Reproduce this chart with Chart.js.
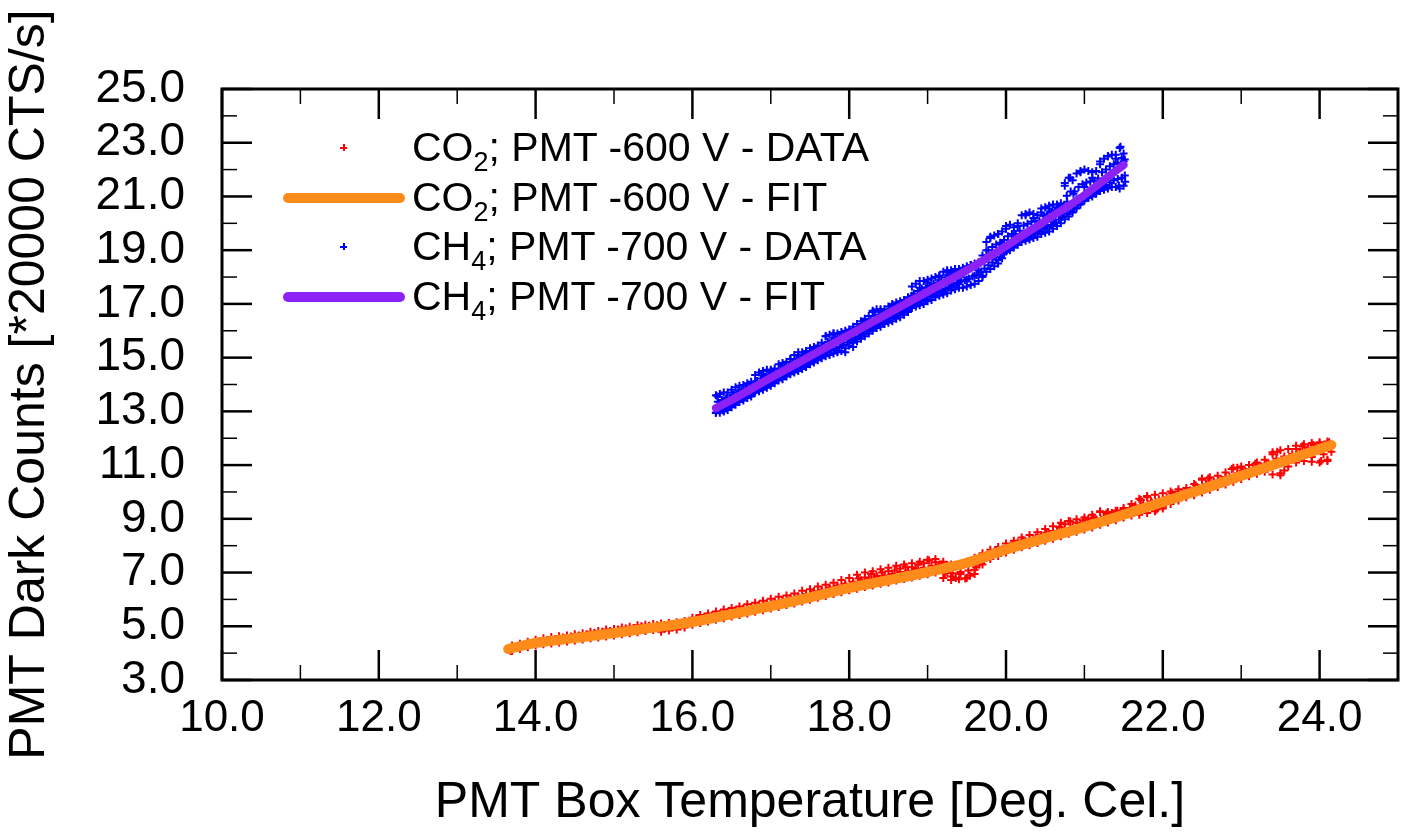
<!DOCTYPE html>
<html>
<head>
<meta charset="utf-8">
<script src="https://cdn.jsdelivr.net/npm/chart.js@4.4.1/dist/chart.umd.min.js"></script>
<style>
  html, body { margin: 0; padding: 0; background: #fff; }
  #wrap { position: relative; width: 1409px; height: 833px; }
  #legend { position: absolute; left: 280px; top: 123px; font-family: 'Liberation Sans', Arial, sans-serif; font-size: 41px; color: #000; }
  .row { height: 49.5px; display: flex; align-items: center; white-space: nowrap; }
  .mk { width: 132px; height: 49.5px; position: relative; flex: none; }
  .bar { position: absolute; left: 3px; width: 122px; height: 10px; top: 20px; border-radius: 5px; }
  .cross { position: absolute; left: 60px; top: 21px; width: 7px; height: 7px; }
  .cross::before, .cross::after { content: ''; position: absolute; background: currentColor; }
  .cross::before { left: 0; top: 3px; width: 7px; height: 1.5px; }
  .cross::after { left: 3px; top: 0; width: 1.5px; height: 7px; }
  .sub { font-size: 27px; vertical-align: -10px; line-height: 0; }
</style>
</head>
<body>
<div id="wrap">
  <canvas id="chart" width="1409" height="833"></canvas>
  <div id="legend"></div>
</div>
<script>
// ============================================================
// DATOS — temperatura de la caja PMT (°C) vs cuentas oscuras
// ============================================================
const co2Temp = [
  13.68, 13.75, 13.85, 13.95, 14.05, 14.15, 14.25, 14.35, 14.45, 14.55,
  14.65, 14.75, 14.85, 14.95, 15.05, 15.15, 15.25, 15.35, 15.45, 15.55,
  15.65, 15.75, 15.85, 15.95, 16.05, 16.15, 16.25, 16.35, 16.45, 16.55,
  16.65, 16.75, 16.85, 16.95, 17.05, 17.15, 17.25, 17.35, 17.45, 17.55,
  17.65, 17.75, 17.85, 17.95, 18.05, 18.12, 18.20, 18.28, 18.35, 18.42,
  18.50, 18.58, 18.65, 18.72, 18.80, 18.88, 18.95, 19.02, 19.10, 19.18,
  19.25, 19.30, 19.36, 19.42, 19.48, 19.54, 19.60, 19.66, 19.72, 19.78,
  19.85, 19.92, 20.00, 20.08, 20.15, 20.22, 20.30, 20.38, 20.45, 20.52,
  20.60, 20.68, 20.75, 20.82, 20.90, 20.98, 21.05, 21.12, 21.20, 21.28,
  21.35, 21.42, 21.50, 21.58, 21.65, 21.72, 21.80, 21.86, 21.92, 22.00,
  22.05, 22.12, 22.20, 22.28, 22.35, 22.42, 22.50, 22.58, 22.65, 22.72,
  22.80, 22.88, 22.95, 23.02, 23.10, 23.18, 23.25, 23.32, 23.40, 23.46,
  23.50, 23.55, 23.62, 23.70, 23.78, 23.85, 23.90, 23.92, 24.00, 24.02,
  24.05, 24.10, 24.12, 24.15,
  19.22, 19.32, 19.42, 19.52, 19.62
];
const co2Counts = [
  4.08, 4.22, 4.30, 4.36, 4.42, 4.47, 4.52, 4.58, 4.62, 4.66,
  4.70, 4.76, 4.80, 4.82, 4.88, 4.92, 4.94, 5.00, 5.02, 5.04,
  4.92, 4.96, 5.00, 5.10, 5.30, 5.35, 5.40, 5.46, 5.52, 5.60,
  5.66, 5.72, 5.80, 5.86, 5.92, 5.98, 6.05, 6.12, 6.20, 6.30,
  6.36, 6.44, 6.52, 6.58, 6.66, 6.78, 6.82, 6.95, 6.88, 7.00,
  7.05, 7.08, 7.15, 7.22, 7.20, 7.30, 7.35, 7.45, 7.38, 7.30,
  7.00, 6.85, 6.80, 6.95, 6.78, 6.88, 7.10, 7.30, 7.45, 7.60,
  7.72, 7.80, 7.98, 8.05, 8.12, 8.20, 8.25, 8.30, 8.40, 8.48,
  8.55, 8.70, 8.80, 8.90, 8.85, 8.95, 9.00, 9.05, 9.25, 9.20,
  9.22, 9.30, 9.35, 9.40, 9.50, 9.70, 9.80, 9.60, 9.35, 9.45,
  9.70, 9.95, 10.02, 9.95, 10.05, 10.25, 10.45, 10.50, 10.35, 10.40,
  10.55, 10.85, 10.90, 10.80, 10.85, 11.05, 10.95, 11.05, 11.40, 11.50,
  10.70, 10.80, 11.30, 11.60, 11.70, 11.65, 11.30, 11.75, 11.80, 11.15,
  11.40, 11.20, 11.85, 11.50,
  6.98, 6.97, 7.02, 7.08, 7.20
];

// borde superior, interior e inferior de la nube de CO2, leídos cada 0.1 °C
const co2EdgeTemp = [
  13.7, 13.8, 13.9, 14.0, 14.1, 14.2, 14.3, 14.4, 14.5, 14.6,
  14.7, 14.8, 14.9, 15.0, 15.1, 15.2, 15.3, 15.4, 15.5, 15.6,
  15.7, 15.8, 15.9, 16.0, 16.1, 16.2, 16.3, 16.4, 16.5, 16.6,
  16.7, 16.8, 16.9, 17.0, 17.1, 17.2, 17.3, 17.4, 17.5, 17.6,
  17.7, 17.8, 17.9, 18.0, 18.1, 18.2, 18.3, 18.4, 18.5, 18.6,
  18.7, 18.8, 18.9, 19.0, 19.1, 19.2, 19.3, 19.4, 19.5, 19.6,
  19.7, 19.8, 19.9, 20.0, 20.1, 20.2, 20.3, 20.4, 20.5, 20.6,
  20.7, 20.8, 20.9, 21.0, 21.1, 21.2, 21.3, 21.4, 21.5, 21.6,
  21.7, 21.8, 21.9, 22.0, 22.1, 22.2, 22.3, 22.4, 22.5, 22.6,
  22.7, 22.8, 22.9, 23.0, 23.1, 23.2, 23.3, 23.4, 23.5, 23.6,
  23.7, 23.8, 23.9, 24.0, 24.1
];
const co2EdgeHigh = [
  4.28, 4.35, 4.42, 4.50, 4.55, 4.60, 4.63, 4.66, 4.70, 4.74,
  4.80, 4.82, 4.88, 4.90, 4.95, 4.98, 5.04, 5.06, 5.08, 5.10,
  5.12, 5.15, 5.20, 5.32, 5.42, 5.48, 5.55, 5.62, 5.68, 5.74,
  5.82, 5.88, 5.95, 6.02, 6.10, 6.15, 6.22, 6.32, 6.38, 6.48,
  6.55, 6.62, 6.72, 6.80, 6.92, 7.00, 7.05, 7.12, 7.18, 7.25,
  7.30, 7.35, 7.40, 7.48, 7.50, 7.40, 7.30, 7.32, 7.40, 7.55,
  7.72, 7.85, 7.95, 8.08, 8.18, 8.30, 8.40, 8.50, 8.62, 8.72,
  8.85, 8.92, 8.98, 9.05, 9.15, 9.28, 9.25, 9.30, 9.40, 9.55,
  9.75, 9.85, 9.90, 9.95, 10.02, 10.10, 10.15, 10.30, 10.50, 10.55,
  10.60, 10.72, 10.90, 10.95, 11.00, 11.10, 11.20, 11.48, 11.55, 11.60,
  11.72, 11.78, 11.82, 11.85, 11.88
];
const co2MidTemp = [
  13.75, 13.85, 13.95, 14.05, 14.15, 14.25, 14.35, 14.45, 14.55, 14.65,
  14.75, 14.85, 14.95, 15.05, 15.15, 15.25, 15.35, 15.45, 15.55, 15.65,
  15.75, 15.85, 15.95, 16.05, 16.15, 16.25, 16.35, 16.45, 16.55, 16.65,
  16.75, 16.85, 16.95, 17.05, 17.15, 17.25, 17.35, 17.45, 17.55, 17.65,
  17.75, 17.85, 17.95, 18.05, 18.15, 18.25, 18.35, 18.45, 18.55, 18.65,
  18.75, 18.85, 18.95, 19.05, 19.15, 19.25, 19.35, 19.45, 19.55, 19.65,
  19.75, 19.85, 19.95, 20.05, 20.15, 20.25, 20.35, 20.45, 20.55, 20.65,
  20.75, 20.85, 20.95, 21.05, 21.15, 21.25, 21.35, 21.45, 21.55, 21.65,
  21.75, 21.85, 21.95, 22.05, 22.15, 22.25, 22.35, 22.45, 22.55, 22.65,
  22.75, 22.85, 22.95, 23.05, 23.15, 23.25, 23.35, 23.45, 23.55, 23.65,
  23.75, 23.85, 23.95, 24.05, 24.13
];
const co2MidHigh = [
  4.23, 4.30, 4.37, 4.44, 4.49, 4.53, 4.56, 4.59, 4.63, 4.67,
  4.72, 4.75, 4.80, 4.83, 4.87, 4.91, 4.96, 4.99, 5.02, 5.05,
  5.08, 5.12, 5.16, 5.24, 5.32, 5.38, 5.44, 5.51, 5.57, 5.63,
  5.70, 5.76, 5.82, 5.89, 5.96, 6.02, 6.08, 6.17, 6.23, 6.32,
  6.39, 6.46, 6.54, 6.62, 6.71, 6.78, 6.83, 6.89, 6.95, 7.02,
  7.07, 7.13, 7.18, 7.25, 7.30, 7.28, 7.26, 7.30, 7.38, 7.50,
  7.64, 7.76, 7.86, 7.97, 8.06, 8.16, 8.26, 8.35, 8.45, 8.54,
  8.65, 8.72, 8.80, 8.88, 8.97, 9.08, 9.11, 9.18, 9.28, 9.40,
  9.55, 9.65, 9.72, 9.79, 9.87, 9.96, 10.03, 10.15, 10.30, 10.38,
  10.45, 10.56, 10.70, 10.78, 10.85, 10.95, 11.05, 11.24, 11.32, 11.40,
  11.51, 11.59, 11.66, 11.72, 11.79
];
const co2EdgeLow = [
  4.08, 4.15, 4.22, 4.28, 4.33, 4.36, 4.40, 4.43, 4.47, 4.51,
  4.55, 4.58, 4.62, 4.66, 4.70, 4.74, 4.78, 4.82, 4.86, 4.80,
  4.84, 4.88, 4.95, 5.06, 5.12, 5.18, 5.24, 5.30, 5.36, 5.42,
  5.48, 5.54, 5.60, 5.66, 5.72, 5.79, 5.85, 5.92, 5.99, 6.06,
  6.13, 6.20, 6.27, 6.34, 6.40, 6.46, 6.52, 6.58, 6.63, 6.70,
  6.76, 6.82, 6.88, 6.94, 7.00, 6.80, 6.72, 6.75, 6.80, 6.95,
  7.30, 7.50, 7.62, 7.75, 7.85, 7.94, 8.02, 8.10, 8.18, 8.26,
  8.35, 8.44, 8.52, 8.60, 8.68, 8.78, 8.86, 8.95, 9.05, 9.12,
  9.15, 9.22, 9.28, 9.38, 9.55, 9.68, 9.80, 9.88, 9.98, 10.08,
  10.18, 10.28, 10.38, 10.48, 10.58, 10.68, 10.75, 10.65, 10.62, 10.95,
  11.10, 11.15, 11.12, 11.10, 11.15
];

const co2FitTemp   = [13.65, 14.0, 14.5, 15.0, 15.5, 16.0, 16.5, 17.0, 17.5, 18.0, 18.5, 19.0, 19.5, 20.0, 20.5, 21.0, 21.5, 22.0, 22.5, 23.0, 23.5, 24.0, 24.15];
const co2FitCounts = [4.15, 4.38, 4.56, 4.75, 4.95, 5.16, 5.45, 5.75, 6.08, 6.43, 6.72, 7.02, 7.36, 7.86, 8.28, 8.70, 9.15, 9.63, 10.10, 10.60, 11.10, 11.60, 11.75];

const ch4Temp = [
  16.30, 16.32, 16.36, 16.40, 16.44, 16.48, 16.52, 16.56, 16.60, 16.65,
  16.70, 16.75, 16.80, 16.85, 16.90, 16.95, 17.00, 17.05, 17.10, 17.15,
  17.20, 17.25, 17.30, 17.35, 17.40, 17.45, 17.50, 17.55, 17.60, 17.65,
  17.70, 17.75, 17.80, 17.85, 17.90, 17.95, 18.00, 18.05, 18.10, 18.15,
  18.20, 18.25, 18.30, 18.35, 18.40, 18.45, 18.50, 18.55, 18.60, 18.65,
  18.70, 18.75, 18.80, 18.85, 18.90, 18.95, 19.00, 19.05, 19.10, 19.15,
  19.20, 19.25, 19.30, 19.35, 19.40, 19.45, 19.50, 19.55, 19.60, 19.65,
  19.70, 19.75, 19.80, 19.85, 19.90, 19.95, 20.00, 20.05, 20.10, 20.15,
  20.20, 20.25, 20.30, 20.35, 20.40, 20.45, 20.50, 20.55, 20.60, 20.65,
  20.70, 20.75, 20.78, 20.82, 20.86, 20.90, 20.95, 21.00, 21.05, 21.10,
  21.15, 21.20, 21.25, 21.30, 21.35, 21.40, 21.44, 21.46, 21.48, 21.50,
  21.52
];
const ch4Counts = [
  12.95, 13.55, 13.30, 13.00, 13.50, 13.20, 13.60, 13.40, 13.75, 13.50,
  13.85, 13.65, 14.10, 13.80, 14.40, 14.05, 14.50, 14.20, 14.35, 14.70,
  14.45, 14.95, 14.60, 15.10, 14.75, 15.15, 14.90, 15.25, 15.05, 15.40,
  15.80, 15.35, 15.90, 15.25, 15.55, 15.20, 15.70, 15.40, 16.10, 15.80,
  16.40, 16.00, 16.70, 16.20, 16.75, 16.35, 16.55, 16.95, 16.60, 17.00,
  16.70, 16.90, 17.30, 16.95, 17.60, 17.25, 17.80, 17.35, 17.55, 18.05,
  17.45, 18.20, 17.70, 18.30, 17.80, 18.10, 17.90, 18.45, 18.05, 18.25,
  18.00, 19.00, 19.50, 18.80, 19.60, 19.20, 19.80, 19.10, 19.60, 19.90,
  19.40, 20.30, 19.70, 20.20, 19.75, 20.40, 19.95, 20.55, 20.10, 20.40,
  20.30, 21.40, 20.80, 21.70, 21.10, 20.90, 21.90, 21.35, 20.95, 21.70,
  21.30, 22.20, 21.60, 22.50, 21.80, 22.40, 21.40, 22.85, 21.70, 22.30,
  21.55
];

// borde superior e inferior de la nube de CH4, leídos cada 0.05 °C
const ch4EdgeTemp = [
  16.30, 16.35, 16.40, 16.45, 16.50, 16.55, 16.60, 16.65, 16.70, 16.75,
  16.80, 16.85, 16.90, 16.95, 17.00, 17.05, 17.10, 17.15, 17.20, 17.25,
  17.30, 17.35, 17.40, 17.45, 17.50, 17.55, 17.60, 17.65, 17.70, 17.75,
  17.80, 17.85, 17.90, 17.95, 18.00, 18.05, 18.10, 18.15, 18.20, 18.25,
  18.30, 18.35, 18.40, 18.45, 18.50, 18.55, 18.60, 18.65, 18.70, 18.75,
  18.80, 18.85, 18.90, 18.95, 19.00, 19.05, 19.10, 19.15, 19.20, 19.25,
  19.30, 19.35, 19.40, 19.45, 19.50, 19.55, 19.60, 19.65, 19.70, 19.75,
  19.80, 19.85, 19.90, 19.95, 20.00, 20.05, 20.10, 20.15, 20.20, 20.25,
  20.30, 20.35, 20.40, 20.45, 20.50, 20.55, 20.60, 20.65, 20.70, 20.75,
  20.80, 20.85, 20.90, 20.95, 21.00, 21.05, 21.10, 21.15, 21.20, 21.25,
  21.30, 21.35, 21.40, 21.45, 21.50
];
const ch4EdgeHigh = [
  13.60, 13.65, 13.70, 13.70, 13.80, 13.90, 13.95, 13.98, 14.05, 14.10,
  14.35, 14.45, 14.50, 14.55, 14.55, 14.60, 14.75, 14.80, 14.85, 14.95,
  15.10, 15.20, 15.20, 15.25, 15.35, 15.40, 15.45, 15.55, 15.80, 15.85,
  15.90, 15.90, 15.95, 16.00, 16.05, 16.15, 16.25, 16.35, 16.45, 16.55,
  16.75, 16.80, 16.80, 16.80, 16.90, 17.00, 17.05, 17.10, 17.15, 17.25,
  17.65, 17.75, 17.85, 17.85, 17.90, 17.95, 18.00, 18.05, 18.20, 18.25,
  18.25, 18.30, 18.30, 18.35, 18.40, 18.45, 18.50, 18.55, 18.80, 19.30,
  19.45, 19.55, 19.60, 19.70, 19.90, 19.95, 19.85, 20.00, 20.30, 20.35,
  20.40, 20.35, 20.30, 20.55, 20.60, 20.65, 20.70, 20.70, 20.75, 21.50,
  21.70, 21.60, 21.85, 21.95, 22.00, 21.95, 21.90, 21.95, 22.30, 22.40,
  22.50, 22.55, 22.55, 22.80, 22.60
];
const ch4EdgeLow = [
  12.95, 12.95, 13.00, 13.05, 13.15, 13.25, 13.35, 13.40, 13.50, 13.55,
  13.70, 13.75, 13.80, 13.88, 13.95, 14.05, 14.15, 14.20, 14.30, 14.38,
  14.45, 14.50, 14.58, 14.65, 14.75, 14.82, 14.90, 14.98, 15.05, 15.10,
  15.15, 15.20, 15.25, 15.35, 15.45, 15.55, 15.60, 15.70, 15.80, 15.90,
  16.00, 16.10, 16.15, 16.25, 16.30, 16.35, 16.45, 16.50, 16.60, 16.70,
  16.85, 16.90, 16.95, 17.00, 17.10, 17.15, 17.25, 17.30, 17.35, 17.40,
  17.50, 17.55, 17.60, 17.60, 17.65, 17.70, 17.75, 17.85, 18.05, 18.20,
  18.30, 18.40, 18.50, 18.70, 18.95, 19.00, 19.10, 19.20, 19.30, 19.35,
  19.40, 19.45, 19.50, 19.60, 19.65, 19.70, 19.80, 19.90, 20.00, 20.15,
  20.25, 20.40, 20.55, 20.70, 20.85, 20.95, 21.00, 21.10, 21.20, 21.25,
  21.30, 21.35, 21.35, 21.30, 21.40
];

// interior de la nube de CH4 (mitad superior e inferior), cada 0.05 °C
const ch4MidTemp = [
  16.325, 16.375, 16.425, 16.475, 16.525, 16.575, 16.625, 16.675, 16.725, 16.775,
  16.825, 16.875, 16.925, 16.975, 17.025, 17.075, 17.125, 17.175, 17.225, 17.275,
  17.325, 17.375, 17.425, 17.475, 17.525, 17.575, 17.625, 17.675, 17.725, 17.775,
  17.825, 17.875, 17.925, 17.975, 18.025, 18.075, 18.125, 18.175, 18.225, 18.275,
  18.325, 18.375, 18.425, 18.475, 18.525, 18.575, 18.625, 18.675, 18.725, 18.775,
  18.825, 18.875, 18.925, 18.975, 19.025, 19.075, 19.125, 19.175, 19.225, 19.275,
  19.325, 19.375, 19.425, 19.475, 19.525, 19.575, 19.625, 19.675, 19.725, 19.775,
  19.825, 19.875, 19.925, 19.975, 20.025, 20.075, 20.125, 20.175, 20.225, 20.275,
  20.325, 20.375, 20.425, 20.475, 20.525, 20.575, 20.625, 20.675, 20.725, 20.775,
  20.825, 20.875, 20.925, 20.975, 21.025, 21.075, 21.125, 21.175, 21.225, 21.275,
  21.325, 21.375, 21.425, 21.475, 21.515
];
const ch4MidHigh = [
  13.36, 13.42, 13.48, 13.52, 13.61, 13.70, 13.77, 13.82, 13.90, 13.96,
  14.13, 14.22, 14.29, 14.35, 14.40, 14.46, 14.58, 14.64, 14.71, 14.80,
  14.92, 15.00, 15.05, 15.11, 15.20, 15.26, 15.33, 15.42, 15.58, 15.65,
  15.72, 15.76, 15.82, 15.88, 15.95, 16.04, 16.13, 16.22, 16.31, 16.40,
  16.54, 16.60, 16.64, 16.68, 16.78, 16.86, 16.93, 17.00, 17.06, 17.15,
  17.39, 17.48, 17.57, 17.61, 17.68, 17.74, 17.80, 17.87, 17.98, 18.05,
  18.09, 18.16, 18.20, 18.26, 18.32, 18.39, 18.46, 18.53, 18.70, 19.00,
  19.12, 19.21, 19.28, 19.38, 19.52, 19.60, 19.60, 19.72, 19.92, 19.98,
  20.06, 20.08, 20.10, 20.28, 20.34, 20.42, 20.49, 20.54, 20.61, 21.03,
  21.18, 21.18, 21.35, 21.45, 21.52, 21.56, 21.58, 21.67, 21.90, 22.00,
  22.12, 22.20, 22.25, 22.43, 22.38
];
const ch4MidLow = [
  13.04, 13.08, 13.14, 13.20, 13.29, 13.38, 13.47, 13.54, 13.62, 13.69,
  13.81, 13.88, 13.94, 14.02, 14.10, 14.19, 14.28, 14.35, 14.43, 14.52,
  14.59, 14.66, 14.74, 14.81, 14.90, 14.98, 15.06, 15.14, 15.21, 15.28,
  15.34, 15.40, 15.47, 15.56, 15.65, 15.74, 15.80, 15.90, 15.98, 16.08,
  16.16, 16.26, 16.32, 16.41, 16.48, 16.54, 16.63, 16.70, 16.78, 16.88,
  16.99, 17.06, 17.12, 17.18, 17.28, 17.34, 17.43, 17.50, 17.56, 17.62,
  17.72, 17.78, 17.84, 17.88, 17.95, 18.02, 18.08, 18.18, 18.32, 18.44,
  18.54, 18.64, 18.74, 18.88, 19.05, 19.12, 19.22, 19.32, 19.42, 19.48,
  19.56, 19.63, 19.70, 19.80, 19.87, 19.94, 20.04, 20.14, 20.24, 20.36,
  20.45, 20.58, 20.70, 20.82, 20.95, 21.06, 21.14, 21.24, 21.35, 21.43,
  21.52, 21.60, 21.65, 21.68, 21.78
];

const ch4FitTemp   = [16.30, 16.5, 17.0, 17.5, 18.0, 18.5, 19.0, 19.5, 19.8, 20.0, 20.2, 20.4, 20.6, 20.8, 21.0, 21.2, 21.4, 21.5];
const ch4FitCounts = [13.12, 13.42, 14.25, 15.05, 15.85, 16.65, 17.45, 18.25, 18.78, 19.15, 19.53, 19.90, 20.28, 20.65, 21.05, 21.50, 21.95, 22.17];

const xMinorTicks = [11, 13, 15, 17, 19, 21, 23, 25];
const yMinorTicks = [4, 6, 8, 10, 12, 14, 16, 18, 20, 22, 24];

const series = [
  { gas: 'CO', sub: '2', rest: '; PMT -600 V - DATA', color: '#FF0000', kind: 'data' },
  { gas: 'CO', sub: '2', rest: '; PMT -600 V - FIT',  color: '#FF8C1A', kind: 'fit'  },
  { gas: 'CH', sub: '4', rest: '; PMT -700 V - DATA', color: '#0000FF', kind: 'data' },
  { gas: 'CH', sub: '4', rest: '; PMT -700 V - FIT',  color: '#8C22F5', kind: 'fit'  },
];

const FONT = "'Liberation Sans', Arial, Helvetica, sans-serif";

function pares(xs, ys) {
  return xs.map((v, i) => ({ x: v, y: ys[i] }));
}

// ============================================================
// LEYENDA (HTML, con subíndices)
// ============================================================
document.getElementById('legend').innerHTML = series.map(s =>
  `<div class="row">
     <div class="mk">${s.kind === 'fit'
        ? `<div class="bar" style="background:${s.color}"></div>`
        : `<div class="cross" style="color:${s.color}"></div>`}</div>
     <span>${s.gas}<span class="sub">${s.sub}</span>${s.rest}</span>
   </div>`
).join('');

// ============================================================
// MARCO Y MARCAS HACIA DENTRO
// ============================================================
const marcoPlugin = {
  id: 'marco',
  afterDatasetsDraw(chart) {
    const { ctx, chartArea: a, scales: { x, y } } = chart;
    ctx.save();
    ctx.strokeStyle = '#000';
    const seg = (x1, y1, x2, y2, w) => {
      ctx.lineWidth = w;
      ctx.beginPath(); ctx.moveTo(x1, y1); ctx.lineTo(x2, y2); ctx.stroke();
    };
    x.ticks.forEach(t => {
      const px = x.getPixelForValue(t.value);
      seg(px, a.bottom, px, a.bottom - 30, 2.5);
      seg(px, a.top, px, a.top + 30, 2.5);
    });
    xMinorTicks.forEach(v => {
      const px = x.getPixelForValue(v);
      seg(px, a.bottom, px, a.bottom - 15, 1.5);
      seg(px, a.top, px, a.top + 15, 1.5);
    });
    y.ticks.forEach(t => {
      const py = y.getPixelForValue(t.value);
      seg(a.left, py, a.left + 30, py, 2.5);
      seg(a.right, py, a.right - 30, py, 2.5);
    });
    yMinorTicks.forEach(v => {
      const py = y.getPixelForValue(v);
      seg(a.left, py, a.left + 15, py, 1.5);
      seg(a.right, py, a.right - 15, py, 1.5);
    });
    ctx.lineWidth = 3;
    ctx.strokeRect(a.left, a.top, a.right - a.left, a.bottom - a.top);
    ctx.restore();
  }
};

const nube = (label, data, color, order) => ({
  label, data, order,
  pointStyle: 'cross',
  pointRadius: 4,
  pointBorderWidth: 2,
  pointBorderColor: color,
  pointBackgroundColor: color,
});

const ajuste = (label, data, color, width, order) => ({
  label, data, order,
  type: 'line',
  borderColor: color,
  borderWidth: width,
  borderCapStyle: 'round',
  borderJoinStyle: 'round',
  pointRadius: 0,
  cubicInterpolationMode: 'monotone',
  fill: false,
});

// ============================================================
// GRÁFICA
// ============================================================
new Chart(document.getElementById('chart'), {
  type: 'scatter',
  data: {
    datasets: [
      ajuste('CH4; PMT -700 V - FIT', pares(ch4FitTemp, ch4FitCounts), series[3].color, 8, 1),
      nube('CH4; PMT -700 V - DATA', [
        ...pares(ch4Temp, ch4Counts),
        ...pares(ch4EdgeTemp, ch4EdgeHigh),
        ...pares(ch4EdgeTemp, ch4EdgeLow),
        ...pares(ch4MidTemp, ch4MidHigh),
        ...pares(ch4MidTemp, ch4MidLow),
      ], series[2].color, 2),
      ajuste('CO2; PMT -600 V - FIT', pares(co2FitTemp, co2FitCounts), series[1].color, 10, 3),
      nube('CO2; PMT -600 V - DATA', [
        ...pares(co2Temp, co2Counts),
        ...pares(co2EdgeTemp, co2EdgeHigh),
        ...pares(co2EdgeTemp, co2EdgeLow),
        ...pares(co2MidTemp, co2MidHigh),
      ], series[0].color, 4),
    ]
  },
  options: {
    responsive: false,
    animation: false,
    devicePixelRatio: 1,
    layout: { padding: { top: 89, right: 11, left: 0, bottom: 0 } },
    plugins: { legend: { display: false }, tooltip: { enabled: false } },
    scales: {
      x: {
        type: 'linear',
        min: 10, max: 25,
        afterFit: s => { s.height = 153; },
        grid: { display: false, drawTicks: false },
        border: { display: false },
        ticks: {
          stepSize: 2, includeBounds: false, maxRotation: 0, autoSkip: false,
          padding: 12, color: '#000', font: { family: FONT, size: 44 },
          callback: v => v.toFixed(1),
        },
        title: {
          display: true, text: 'PMT Box Temperature [Deg. Cel.]', color: '#000',
          font: { family: FONT, size: 50 }, padding: { top: 0, bottom: 0 },
        },
      },
      y: {
        type: 'linear',
        min: 3, max: 25,
        afterFit: s => { s.width = 222; },
        grid: { display: false, drawTicks: false },
        border: { display: false },
        ticks: {
          stepSize: 2, autoSkip: false,
          padding: 37, color: '#000', font: { family: FONT, size: 46 },
          callback: v => v.toFixed(1),
        },
        title: {
          display: true, text: 'PMT Dark Counts [*20000 CTS/s]', color: '#000',
          font: { family: FONT, size: 50 }, padding: { top: 0, bottom: 0 },
        },
      },
    },
  },
  plugins: [marcoPlugin],
});
</script>
</body>
</html>
